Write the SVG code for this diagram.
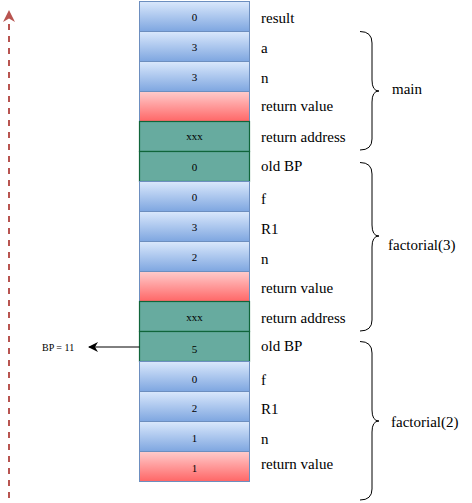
<svg xmlns="http://www.w3.org/2000/svg" width="472" height="503" viewBox="0 0 472 503">
<style>
.blue{fill:url(#gb);stroke:#6c8ebf;stroke-width:1}
.red{fill:url(#gr);stroke:#6c8ebf;stroke-width:1}
.green{fill:#67ab9f;stroke:#10653a;stroke-width:1.2}
.v{font-family:"Liberation Serif",serif;font-size:11px;fill:#000;text-anchor:middle}
.l{font-family:"Liberation Serif",serif;font-size:15px;fill:#000}
.br{fill:none;stroke:#000;stroke-width:1}
</style>
<defs>
<linearGradient id="gb" x1="0" y1="0" x2="0" y2="1"><stop offset="0" stop-color="#dae8fc"/><stop offset="1" stop-color="#7ea6e0"/></linearGradient>
<linearGradient id="gr" x1="0" y1="0" x2="0" y2="1"><stop offset="0" stop-color="#ffcccc"/><stop offset="1" stop-color="#ff6666"/></linearGradient>
<marker id="ah" viewBox="0 0 10 10" refX="9" refY="5" markerWidth="10" markerHeight="10" markerUnits="userSpaceOnUse" orient="auto"><path d="M0,0 L10,5 L0,10 L3,5 Z" fill="#000"/></marker>
<marker id="ahr" viewBox="0 0 12 12" refX="11" refY="6" markerWidth="12" markerHeight="12" markerUnits="userSpaceOnUse" orient="auto"><path d="M0,0 L12,6 L0,12 L3.5,6 Z" fill="#b85450"/></marker>
</defs>
<g id="stack">
<g id="r0"><rect class="blue" x="139.5" y="1.5" width="110" height="30"/><text class="v" x="194.5" y="20.5">0</text></g>
<g id="r1"><rect class="blue" x="139.5" y="31.5" width="110" height="30"/><text class="v" x="194.5" y="50.5">3</text></g>
<g id="r2"><rect class="blue" x="139.5" y="61.5" width="110" height="30"/><text class="v" x="194.5" y="80.5">3</text></g>
<g id="r3"><rect class="red" x="139.5" y="91.5" width="110" height="30"/></g>
<g id="r4"><rect class="green" x="139.5" y="121.5" width="110" height="30"/><text class="v" x="194.5" y="140">xxx</text></g>
<g id="r5"><rect class="green" x="139.5" y="151.5" width="110" height="30"/><text class="v" x="194.5" y="170.5">0</text></g>
<g id="r6"><rect class="blue" x="139.5" y="181.5" width="110" height="30"/><text class="v" x="194.5" y="201">0</text></g>
<g id="r7"><rect class="blue" x="139.5" y="211.5" width="110" height="30"/><text class="v" x="194.5" y="230.5">3</text></g>
<g id="r8"><rect class="blue" x="139.5" y="241.5" width="110" height="30"/><text class="v" x="194.5" y="260.5">2</text></g>
<g id="r9"><rect class="red" x="139.5" y="271.5" width="110" height="30"/></g>
<g id="r10"><rect class="green" x="139.5" y="301.5" width="110" height="30"/><text class="v" x="194.5" y="320.5">xxx</text></g>
<g id="r11"><rect class="green" x="139.5" y="331.5" width="110" height="30"/><text class="v" x="194.5" y="352.5">5</text></g>
<g id="r12"><rect class="blue" x="139.5" y="361.5" width="110" height="30"/><text class="v" x="194.5" y="382.5">0</text></g>
<g id="r13"><rect class="blue" x="139.5" y="391.5" width="110" height="30"/><text class="v" x="194.5" y="411.5">2</text></g>
<g id="r14"><rect class="blue" x="139.5" y="421.5" width="110" height="30"/><text class="v" x="194.5" y="441.5">1</text></g>
<g id="r15"><rect class="red" x="139.5" y="451.5" width="110" height="30"/><text class="v" x="194.5" y="471.5">1</text></g>
</g>
<g id="labels">
<text class="l" x="261" y="23">result</text>
<text class="l" x="261" y="53">a</text>
<text class="l" x="261" y="83">n</text>
<text class="l" x="261" y="111">return value</text>
<text class="l" x="261" y="142">return address</text>
<text class="l" x="261" y="171">old BP</text>
<text class="l" x="261" y="204">f</text>
<text class="l" x="261" y="234">R1</text>
<text class="l" x="261" y="264">n</text>
<text class="l" x="261" y="293">return value</text>
<text class="l" x="261" y="323">return address</text>
<text class="l" x="261" y="351">old BP</text>
<text class="l" x="261" y="385">f</text>
<text class="l" x="261" y="414">R1</text>
<text class="l" x="261" y="444">n</text>
<text class="l" x="261" y="469">return value</text>
</g>
<g id="main">
<path class="br" d="M360,31.5 Q372,31.5 372,43 L372,80 Q372,91 379,91 Q372,91 372,102 L372,139 Q372,150 360,150"/>
<text class="l" x="392" y="94">main</text>
</g>
<g id="factorial3">
<path class="br" d="M360,162.5 Q372,162.5 372,174 L372,225 Q372,236 379,236 Q372,236 372,247 L372,320 Q372,331 360,331"/>
<text class="l" x="388" y="250">factorial(3)</text>
</g>
<g id="factorial2">
<path class="br" d="M360,341.5 Q372,341.5 372,353 L372,410 Q372,421 379,421 Q372,421 372,432 L372,489 Q372,500 360,500"/>
<text class="l" x="391" y="427">factorial(2)</text>
</g>
<g id="bp">
<text x="42" y="351" style="font-family:'Liberation Serif',serif;font-size:10px">BP = 11</text>
</g>
<g id="connectors">
<line x1="139.5" y1="347" x2="89" y2="347" stroke="#000" stroke-width="1" marker-end="url(#ah)"/>
<line x1="9" y1="498" x2="9" y2="11" stroke="#b85450" stroke-width="2" stroke-dasharray="6 6" marker-end="url(#ahr)"/>
</g>
</svg>
